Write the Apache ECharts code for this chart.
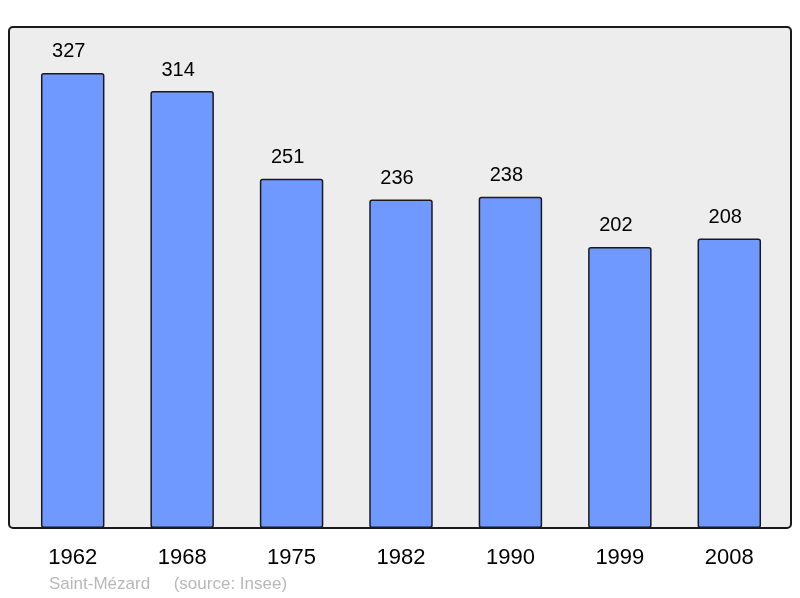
<!DOCTYPE html>
<html>
<head>
<meta charset="utf-8">
<script src="https://cdn.jsdelivr.net/npm/echarts@6/dist/echarts.min.js"></script>
<style>
  html, body { margin: 0; padding: 0; background: #fff; }
  #chart { width: 800px; height: 598px; }
</style>
</head>
<body>
<div id="chart"></div>
<script>
  const years = ['1962', '1968', '1975', '1982', '1990', '1999', '2008'];
  const population = [327, 314, 251, 236, 238, 202, 208];
  const footer = 'Saint-Mézard     (source: Insee)';

  const chart = echarts.init(document.getElementById('chart'));
  chart.setOption({
    animation: false,
    textStyle: { fontFamily: 'Liberation Sans' },
    grid: { left: 18, right: 16, top: 27, bottom: 70 },
    graphic: [
      {
        type: 'rect', z: -10, silent: true,
        shape: { x: 9, y: 27, width: 782, height: 501, r: 4 },
        style: { fill: '#ededed' }
      },
      {
        type: 'rect', z: 100, silent: true,
        shape: { x: 9, y: 27, width: 782, height: 501, r: 4 },
        style: { fill: 'none', stroke: '#1a1a1a', lineWidth: 2 }
      },
      {
        type: 'text', left: 49, top: 576, silent: true,
        style: { text: footer, fontSize: 17, fill: '#b8b8b8', fontFamily: 'Liberation Sans' }
      }
    ],
    xAxis: {
      type: 'category',
      data: years,
      axisLine: { show: false },
      axisTick: { show: false },
      axisLabel: { fontSize: 22, color: '#000', margin: 19 }
    },
    yAxis: {
      type: 'value',
      min: 0,
      max: 360,
      show: false,
      splitLine: { show: false }
    },
    series: [{
      type: 'bar',
      data: population,
      barWidth: '58%',
      itemStyle: {
        color: '#7099ff',
        borderColor: '#1a1a1a',
        borderWidth: 1.5,
        borderRadius: 2
      },
      label: {
        show: true,
        position: 'top',
        distance: 11,
        offset: [-4, 0],
        fontSize: 20,
        color: '#000'
      }
    }]
  });
</script>
</body>
</html>
